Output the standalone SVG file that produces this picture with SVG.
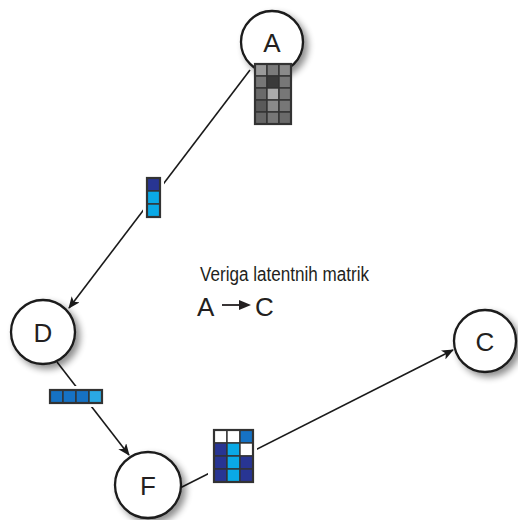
<svg xmlns="http://www.w3.org/2000/svg" width="518" height="520" viewBox="0 0 518 520">
  <style>
    .node { fill: #ffffff; stroke: #1a1a1a; stroke-width: 2.3; }
    .lbl { font-family: "Liberation Sans", Arial, sans-serif; font-size: 26px; fill: #231f20; text-anchor: middle; }
    .edge { stroke: #1a1a1a; stroke-width: 1.6; fill: none; }
    .cell { stroke: #333333; stroke-width: 1.4; }
    .frame { fill: none; stroke: #333333; stroke-width: 2.2; }
    .caption { font-family: "Liberation Sans", Arial, sans-serif; font-size: 20px; fill: #231f20; }
    .big { font-family: "Liberation Sans", Arial, sans-serif; font-size: 26px; fill: #231f20; }
  </style>
  <defs>
    <filter id="shadow" x="-30%" y="-30%" width="170%" height="170%">
      <feGaussianBlur in="SourceAlpha" stdDeviation="3.5"/>
      <feOffset dx="4" dy="4" result="b"/>
      <feComponentTransfer><feFuncA type="linear" slope="0.45"/></feComponentTransfer>
      <feMerge><feMergeNode/><feMergeNode in="SourceGraphic"/></feMerge>
    </filter>
    <marker id="arrow" viewBox="0 0 12 10" refX="11" refY="5" markerWidth="12" markerHeight="10" markerUnits="userSpaceOnUse" orient="auto">
      <path d="M0,0 L12,5 L0,10 L3,5 Z" fill="#1a1a1a"/>
    </marker>
  </defs>

  <rect width="518" height="520" fill="#ffffff"/>

  <!-- connectors -->
  <g id="connectors">
    <line class="edge" x1="250" y1="70" x2="69" y2="308" marker-end="url(#arrow)"/>
    <line class="edge" x1="57" y1="362" x2="129" y2="455" marker-end="url(#arrow)"/>
    <line class="edge" x1="180" y1="488" x2="453" y2="350" marker-end="url(#arrow)"/>
  </g>

  <!-- nodes -->
  <g id="node-A">
    <circle class="node" cx="272" cy="42" r="31" filter="url(#shadow)"/>
    <text class="lbl" x="272" y="52">A</text>
  </g>
  <g id="node-D">
    <circle class="node" cx="43" cy="332" r="32" filter="url(#shadow)"/>
    <text class="lbl" x="43" y="342">D</text>
  </g>
  <g id="node-F">
    <circle class="node" cx="148" cy="485" r="33" filter="url(#shadow)"/>
    <text class="lbl" x="148" y="495">F</text>
  </g>
  <g id="node-C">
    <circle class="node" cx="485" cy="341" r="31" filter="url(#shadow)"/>
    <text class="lbl" x="485" y="351">C</text>
  </g>

  <!-- gray matrix below A (3 x 5) -->
  <g id="matrix-A">
    <rect x="255" y="64" width="12" height="12" class="cell" fill="#9a9a9a"/>
    <rect x="267" y="64" width="12" height="12" class="cell" fill="#7a7a7a"/>
    <rect x="279" y="64" width="12" height="12" class="cell" fill="#8a8a8a"/>
    <rect x="255" y="76" width="12" height="12" class="cell" fill="#777777"/>
    <rect x="267" y="76" width="12" height="12" class="cell" fill="#3a3a3a"/>
    <rect x="279" y="76" width="12" height="12" class="cell" fill="#777777"/>
    <rect x="255" y="88" width="12" height="12" class="cell" fill="#6a6a6a"/>
    <rect x="267" y="88" width="12" height="12" class="cell" fill="#ababab"/>
    <rect x="279" y="88" width="12" height="12" class="cell" fill="#777777"/>
    <rect x="255" y="100" width="12" height="12" class="cell" fill="#5a5a5a"/>
    <rect x="267" y="100" width="12" height="12" class="cell" fill="#8a8a8a"/>
    <rect x="279" y="100" width="12" height="12" class="cell" fill="#777777"/>
    <rect x="255" y="112" width="12" height="12" class="cell" fill="#666666"/>
    <rect x="267" y="112" width="12" height="12" class="cell" fill="#777777"/>
    <rect x="279" y="112" width="12" height="12" class="cell" fill="#6a6a6a"/>
    <rect x="255" y="64" width="36" height="60" class="frame"/>
  </g>

  <!-- vertical vector on A-D edge -->
  <g id="vector-AD">
    <rect x="143" y="175" width="21" height="46" fill="#ffffff"/>
    <rect x="147" y="178" width="13" height="13" class="cell" fill="#283593"/>
    <rect x="147" y="191" width="13" height="13" class="cell" fill="#0aa9e6"/>
    <rect x="147" y="204" width="13" height="13" class="cell" fill="#0aa9e6"/>
    <rect x="147" y="178" width="13" height="39" class="frame"/>
  </g>

  <!-- horizontal vector on D-F edge -->
  <g id="vector-DF">
    <rect x="47" y="386" width="59" height="21" fill="#ffffff"/>
    <rect x="50" y="390" width="13" height="13" class="cell" fill="#1672c4"/>
    <rect x="63" y="390" width="13" height="13" class="cell" fill="#1672c4"/>
    <rect x="76" y="390" width="13" height="13" class="cell" fill="#1672c4"/>
    <rect x="89" y="390" width="13" height="13" class="cell" fill="#2aa8e3"/>
    <rect x="50" y="390" width="52" height="13" class="frame"/>
  </g>

  <!-- matrix on F-C edge (3 x 4) -->
  <g id="matrix-FC">
    <rect x="208" y="426" width="49" height="60" fill="#ffffff"/>
    <rect x="214" y="430" width="13" height="13" class="cell" fill="#ffffff"/>
    <rect x="227" y="430" width="13" height="13" class="cell" fill="#ffffff"/>
    <rect x="240" y="430" width="13" height="13" class="cell" fill="#1672c4"/>
    <rect x="214" y="443" width="13" height="13" class="cell" fill="#283593"/>
    <rect x="227" y="443" width="13" height="13" class="cell" fill="#0aa9e6"/>
    <rect x="240" y="443" width="13" height="13" class="cell" fill="#ffffff"/>
    <rect x="214" y="456" width="13" height="13" class="cell" fill="#283593"/>
    <rect x="227" y="456" width="13" height="13" class="cell" fill="#0aa9e6"/>
    <rect x="240" y="456" width="13" height="13" class="cell" fill="#283593"/>
    <rect x="214" y="469" width="13" height="13" class="cell" fill="#283593"/>
    <rect x="227" y="469" width="13" height="13" class="cell" fill="#0aa9e6"/>
    <rect x="240" y="469" width="13" height="13" class="cell" fill="#283593"/>
    <rect x="214" y="430" width="39" height="52" class="frame"/>
  </g>

  <!-- caption -->
  <g id="caption">
    <text class="caption" x="200" y="281" textLength="169" lengthAdjust="spacingAndGlyphs">Veriga latentnih matrik</text>
    <text class="big" x="197" y="316">A</text>
    <line x1="222" y1="305" x2="242" y2="305" stroke="#231f20" stroke-width="1.8"/>
    <path d="M239,300 L251,305 L239,310 Z" fill="#231f20"/>
    <text class="big" x="255" y="316">C</text>
  </g>
</svg>
